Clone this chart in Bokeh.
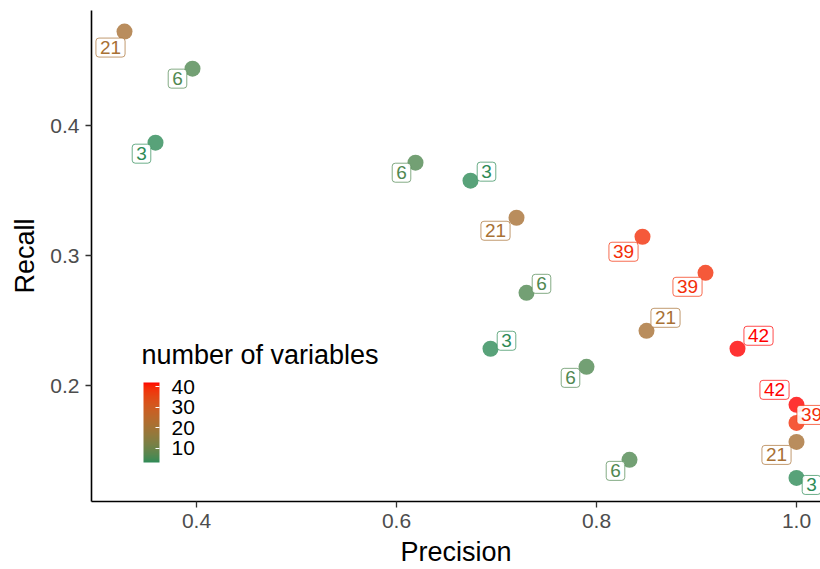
from bokeh.plotting import figure
from bokeh.models import (ColumnDataSource, Range1d, FixedTicker, ColorBar,
                          LinearColorMapper, Label)
from bokeh.core.properties import value
from bokeh.embed import file_html
from bokeh.resources import INLINE

# ---------------- data ----------------
precision = [0.328, 0.396, 0.359, 0.619, 0.674, 0.720, 0.846, 0.909, 0.730,
             0.850, 0.694, 0.941, 0.790, 1.000, 1.000, 1.000, 0.833, 1.000]
recall = [0.4723, 0.4438, 0.3869, 0.3715, 0.3577, 0.3292, 0.3146, 0.2869, 0.2715,
          0.2423, 0.2285, 0.2285, 0.2146, 0.1854, 0.1715, 0.1569, 0.1431, 0.1292]
n_vars = [21, 6, 3, 6, 3, 21, 39, 39, 6, 21, 3, 42, 6, 42, 39, 21, 6, 3]

x_ticks = [0.4, 0.6, 0.8, 1.0]
x_tick_labels = ["0.4", "0.6", "0.8", "1.0"]
y_ticks = [0.2, 0.3, 0.4]
y_tick_labels = ["0.2", "0.3", "0.4"]
legend_ticks = [10, 20, 30, 40]
legend_title = "number of variables"
x_title = "Precision"
y_title = "Recall"
low_color = "#2E8B57"
high_color = "#FF0000"

# label nudges (screen px, +y = down), as placed by the repelling labels
label_dx = [-14, -15, -14, -14, 16, -21, -19, -18, 15, 19, 16, 21, -16, -22, 15, -20, -14, 15]
label_dy = [16, 10, 11, 10, -9, 13, 15, 14, -9, -13, -8, -13, 11, -15, -8, 13, 11, 7]

# ---------------- colour scale (Lab interpolation) ----------------
def _hex_to_rgb(h):
    h = h.lstrip("#")
    return [int(h[i:i + 2], 16) / 255 for i in (0, 2, 4)]

WHITE = (0.95047, 1.0, 1.08883)

def _rgb_to_lab(rgb):
    lin = [c / 12.92 if c <= 0.04045 else ((c + 0.055) / 1.055) ** 2.4 for c in rgb]
    r, g, b = lin
    X = 0.4124564 * r + 0.3575761 * g + 0.1804375 * b
    Y = 0.2126729 * r + 0.7151522 * g + 0.0721750 * b
    Z = 0.0193339 * r + 0.1191920 * g + 0.9503041 * b
    def f(t):
        return t ** (1 / 3) if t > 0.008856 else 7.787 * t + 16 / 116
    fx, fy, fz = f(X / WHITE[0]), f(Y / WHITE[1]), f(Z / WHITE[2])
    return (116 * fy - 16, 500 * (fx - fy), 200 * (fy - fz))

def _lab_to_hex(lab):
    L, a, b = lab
    fy = (L + 16) / 116
    fx = fy + a / 500
    fz = fy - b / 200
    def finv(t):
        return t ** 3 if t ** 3 > 0.008856 else (t - 16 / 116) / 7.787
    X, Y, Z = finv(fx) * WHITE[0], finv(fy) * WHITE[1], finv(fz) * WHITE[2]
    r = 3.2404542 * X - 1.5371385 * Y - 0.4985314 * Z
    g = -0.9692660 * X + 1.8760108 * Y + 0.0415560 * Z
    bb = 0.0556434 * X - 0.2040259 * Y + 1.0572252 * Z
    out = []
    for c in (r, g, bb):
        c = 12.92 * c if c <= 0.0031308 else 1.055 * c ** (1 / 2.4) - 0.055
        out.append(max(0, min(255, round(c * 255))))
    return "#%02x%02x%02x" % tuple(out)

LAB_LO = _rgb_to_lab(_hex_to_rgb(low_color))
LAB_HI = _rgb_to_lab(_hex_to_rgb(high_color))
vmin, vmax = min(n_vars), max(n_vars)

def colour(v):
    t = (v - vmin) / (vmax - vmin)
    return _lab_to_hex(tuple(lo + (hi - lo) * t for lo, hi in zip(LAB_LO, LAB_HI)))

palette = [colour(vmin + (vmax - vmin) * i / 255) for i in range(256)]
cols = [colour(v) for v in n_vars]

src = ColumnDataSource(dict(x=precision, y=recall, n=n_vars, col=cols,
                            lab=[str(v) for v in n_vars], dx=label_dx, dy=label_dy))

# ---------------- figure ----------------
FONT = "Liberation Sans"
p = figure(width=820, height=569, output_backend="svg", toolbar_location=None,
           x_range=Range1d(0.295, 1.024), y_range=Range1d(0.1111, 0.4885),
           min_border_left=91, min_border_right=0, min_border_top=10,
           min_border_bottom=67)
p.outline_line_color = None
p.grid.visible = False
p.background_fill_color = "white"

p.xaxis.ticker = FixedTicker(ticks=x_ticks)
p.xaxis.major_label_overrides = dict(zip(x_ticks, x_tick_labels))
p.yaxis.ticker = FixedTicker(ticks=y_ticks)
p.yaxis.major_label_overrides = dict(zip(y_ticks, y_tick_labels))
p.xaxis.axis_label = x_title
p.yaxis.axis_label = y_title
for ax in (p.xaxis, p.yaxis):
    ax.axis_line_color = "black"
    ax.axis_line_width = 1.6
    ax.major_tick_line_color = "#333333"
    ax.major_tick_line_width = 1.3
    ax.major_tick_out = 6
    ax.major_tick_in = 0
    ax.minor_tick_line_color = None
    ax.major_label_text_font = FONT
    ax.major_label_text_font_size = "21px"
    ax.major_label_text_color = "#4D4D4D"
    ax.axis_label_text_font = FONT
    ax.axis_label_text_font_size = "27px"
    ax.axis_label_text_font_style = "normal"
    ax.axis_label_text_color = "black"
p.xaxis.major_label_standoff = 6
p.xaxis.axis_label_standoff = 6
p.yaxis.major_label_standoff = 6
p.yaxis.axis_label_standoff = 7

p.scatter(x="x", y="y", source=src, size=16, fill_color="col", fill_alpha=0.8,
          line_color=None)

p.text(x="x", y="y", text="lab", source=src, x_offset="dx", y_offset="dy",
       text_color="col", text_font=value(FONT), text_font_size="19px",
       text_align="center", text_baseline="middle",
       background_fill_color="white", background_fill_alpha=0.9,
       border_line_color="col", border_line_alpha=0.7, border_line_width=1,
       padding=(4, 3), border_radius=3)

mapper = LinearColorMapper(palette=palette, low=vmin, high=vmax)
cb = ColorBar(color_mapper=mapper, ticker=FixedTicker(ticks=legend_ticks),
              location=(52, 39), width=16, height=80, padding=0,
              major_label_text_font=FONT, major_label_text_font_size="21px",
              major_label_text_color="black", label_standoff=12,
              major_tick_line_color="white", major_tick_in=4, major_tick_out=0,
              bar_line_color=None, background_fill_alpha=0,
              border_line_color=None)
p.add_layout(cb)

p.add_layout(Label(x=50, y=147, x_units="screen", y_units="screen",
                   text=legend_title, text_font=FONT, text_font_size="27px",
                   text_color="black", text_baseline="middle", text_align="left"))

open("out.html", "w").write(file_html(p, INLINE))
